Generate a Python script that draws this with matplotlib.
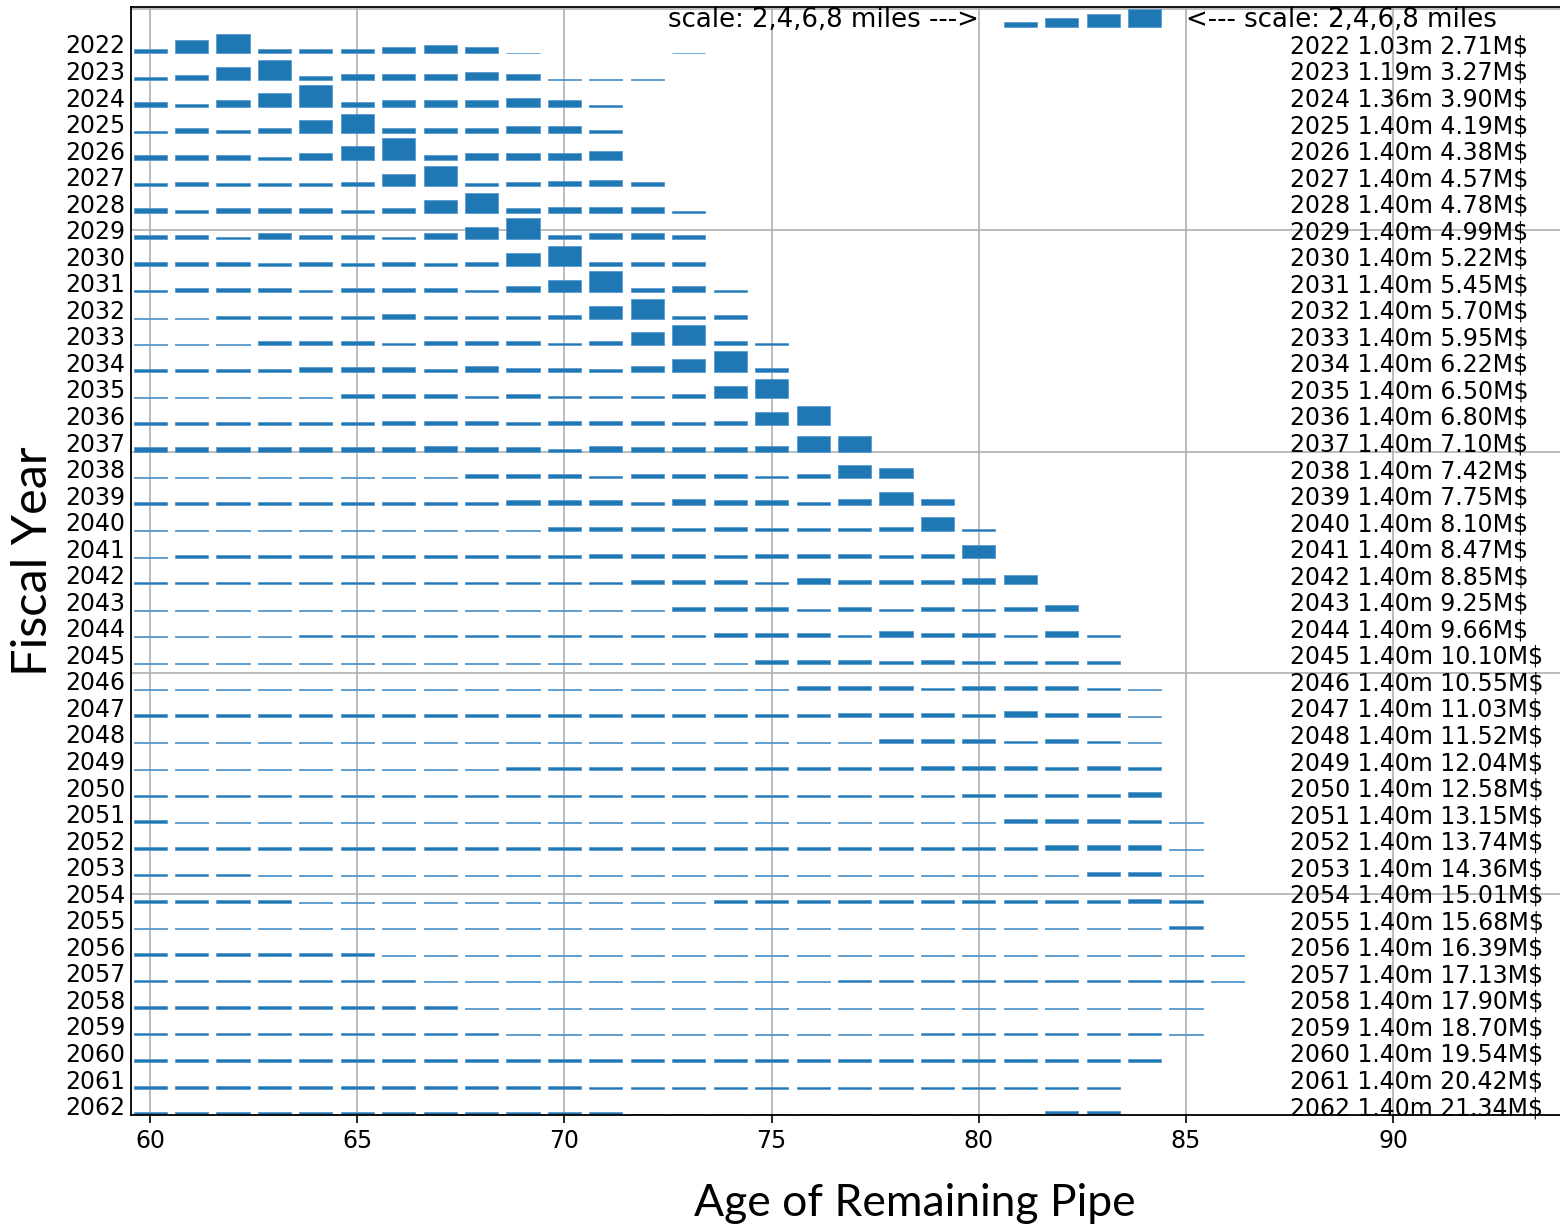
import matplotlib
matplotlib.use("Agg")
import matplotlib.pyplot as plt
from matplotlib.ticker import MultipleLocator, NullFormatter

# fiscal years, top row first
years = list(range(2022, 2063))
first_age = 60

# miles of remaining pipe per age, one list per year, first value is age 60
miles = [
    [1.9, 5.9, 8.9, 1.9, 1.9, 1.9, 2.8, 3.6, 2.8, 0.4, 0, 0, 0, 0.4],                    # 2022
    [1.3, 2.1, 5.7, 8.9, 1.9, 2.8, 2.8, 2.8, 3.6, 2.8, 0.4, 0.4, 0.4],                   # 2023
    [2.1, 1.3, 3.0, 6.0, 9.8, 2.1, 3.0, 3.0, 3.0, 3.7, 3.0, 0.7],                        # 2024
    [1.0, 2.1, 1.2, 2.1, 5.7, 8.7, 2.1, 2.1, 2.1, 3.0, 3.4, 1.6],                        # 2025
    [2.1, 2.1, 2.1, 1.2, 2.8, 6.0, 9.8, 2.1, 2.8, 2.8, 3.0, 3.7],                        # 2026
    [1.2, 1.9, 1.2, 1.2, 1.2, 1.9, 5.7, 8.9, 1.2, 1.9, 2.4, 2.7, 1.9],                   # 2027
    [1.9, 1.2, 1.9, 1.9, 1.9, 1.2, 1.9, 5.7, 8.7, 1.9, 2.7, 2.7, 2.7, 0.6],              # 2028
    [1.9, 1.9, 1.2, 2.7, 1.9, 1.9, 1.2, 2.7, 5.7, 9.6, 1.9, 2.7, 2.7, 1.9],              # 2029
    [1.9, 1.9, 1.9, 1.2, 1.9, 1.2, 1.9, 1.2, 1.9, 5.9, 9.0, 1.9, 1.9, 1.9],              # 2030
    [1.2, 1.9, 1.9, 1.9, 1.2, 1.9, 1.9, 1.9, 1.2, 2.7, 5.7, 9.5, 1.9, 2.7, 1.2],         # 2031
    [0.4, 0.4, 1.3, 1.3, 1.3, 1.3, 2.2, 1.3, 1.3, 1.3, 1.9, 6.0, 9.0, 1.2, 1.9],         # 2032
    [0.4, 0.4, 0.4, 2.0, 2.0, 2.0, 1.2, 2.0, 2.0, 2.0, 1.2, 1.9, 6.0, 9.2, 1.9, 1.2],    # 2033
    [1.3, 1.3, 1.3, 1.3, 2.0, 2.0, 2.0, 1.3, 2.6, 1.9, 1.9, 1.2, 2.7, 6.0, 9.5, 1.9],    # 2034
    [0.5, 0.5, 0.5, 0.5, 0.5, 2.0, 2.0, 2.0, 1.2, 2.0, 1.2, 1.2, 1.2, 1.9, 5.7, 8.9],    # 2035
    [1.3, 1.3, 1.3, 1.3, 1.3, 1.3, 2.0, 2.0, 1.9, 1.3, 1.9, 1.9, 1.9, 1.2, 1.9, 5.7, 8.4],  # 2036
    [1.9, 1.9, 1.9, 1.9, 1.9, 1.9, 1.9, 2.4, 2.0, 2.0, 1.3, 2.5, 1.9, 1.9, 1.9, 2.5, 6.8, 6.8],  # 2037
    [0.5] * 8 + [1.9, 1.9, 1.9, 1.0, 1.9, 1.9, 1.9, 1.0, 1.9, 5.9, 4.4],                 # 2038
    [1.3] * 9 + [1.9, 1.9, 1.9, 1.0, 2.7, 1.9, 1.9, 1.0, 2.7, 5.7, 2.7],                 # 2039
    [0.5] * 10 + [1.9, 1.9, 1.9, 1.3, 1.9, 1.3, 1.3, 1.3, 1.9, 6.2, 1.2],                # 2040
    [0.5] + [1.2] * 10 + [1.8, 1.8, 1.8, 1.0, 1.8, 1.8, 1.8, 1.0, 1.8, 5.7],             # 2041
    [1.2] * 12 + [1.9, 1.9, 1.9, 1.2, 2.7, 1.9, 1.9, 1.9, 2.9, 4.4],                     # 2042
    [0.5] * 13 + [1.7, 1.7, 1.7, 1.0, 1.7, 1.0, 1.7, 1.0, 1.7, 2.7],                     # 2043
    [0.5] * 4 + [1.2] * 10 + [1.9, 1.9, 1.9, 1.2, 2.7, 1.9, 1.9, 1.2, 2.7, 1.2],         # 2044
    [0.6] * 15 + [1.9, 1.9, 1.9, 1.3, 1.9, 1.3, 1.3, 1.3, 1.3],                          # 2045
    [0.5] * 16 + [1.9, 1.9, 1.9, 1.2, 1.9, 1.9, 1.9, 1.2, 0.5],                          # 2046
    [1.2] * 17 + [1.9, 1.9, 1.9, 1.2, 2.7, 1.9, 1.9, 0.4],                               # 2047
    [0.5] * 18 + [1.9, 1.9, 1.9, 1.2, 1.9, 1.2, 0.5],                                    # 2048
    [0.5] * 9 + [1.2] * 10 + [1.9, 1.9, 1.9, 1.2, 1.9, 1.2],                             # 2049
    [0.5] * 20 + [1.3, 1.3, 1.3, 1.3, 2.2],                                              # 2050
    [1.2] + [0.5] * 20 + [1.9, 1.9, 1.9, 1.2, 0.5],                                      # 2051
    [1.2] * 22 + [1.9, 1.9, 1.9, 0.5],                                                   # 2052
    [1.2] * 3 + [0.5] * 20 + [1.9, 1.9, 0.5],                                            # 2053
    [1.2] * 4 + [0.5] * 10 + [1.2] * 10 + [1.9, 1.2],                                    # 2054
    [0.5] * 25 + [1.5],                                                                  # 2055
    [1.2] * 6 + [0.5] * 21,                                                              # 2056
    [1.2] * 7 + [0.5] * 10 + [1.2] * 9 + [0.5],                                          # 2057
    [1.2] * 8 + [0.5] * 18,                                                              # 2058
    [1.2] * 9 + [0.5] * 10 + [1.2] * 6 + [0.5],                                          # 2059
    [1.2] * 25,                                                                          # 2060
    [1.2] * 11 + [0.5] * 13,                                                             # 2061
    [1.2] * 12 + [0.6] * 10 + [1.9, 1.9],                                                # 2062
]

# text on the right: miles replaced and cost per year
replaced = [1.03, 1.19, 1.36] + [1.40] * 38
cost = [2.71, 3.27, 3.90, 4.19, 4.38, 4.57, 4.78, 4.99, 5.22, 5.45,
        5.70, 5.95, 6.22, 6.50, 6.80, 7.10, 7.42, 7.75, 8.10, 8.47,
        8.85, 9.25, 9.66, 10.10, 10.55, 11.03, 11.52, 12.04, 12.58, 13.15,
        13.74, 14.36, 15.01, 15.68, 16.39, 17.13, 17.90, 18.70, 19.54, 20.42,
        21.34]

# scale key drawn as an extra row above 2022
scale_year = 2021
scale_ages = [81, 82, 83, 84]
scale_miles = [2, 4, 6, 8]

row_gap = 12
blue = '#1f77b4'
edge = '#5a9bd0'
plt.rcParams['font.size'] = 17


def row_y(yr):
    return (years[-1] - yr) * row_gap


fig = plt.figure(figsize=(15.6, 12.26), dpi=100)
ax = fig.add_axes([0.084, 0.0905, 0.918, 0.9038])

for yr, row in zip(years, miles):
    ages = [a for a, m in zip(range(first_age, first_age + len(row)), row) if m > 0]
    vals = [m for m in row if m > 0]
    ax.bar(ages, vals, width=0.8, bottom=row_y(yr), color=blue,
           edgecolor=edge, linewidth=0.6, zorder=2)

ax.bar(scale_ages, scale_miles, width=0.8, bottom=row_y(scale_year), color=blue,
       edgecolor=edge, linewidth=0.6, zorder=2)
ax.text(80, row_y(scale_year), 'scale: 2,4,6,8 miles --->', ha='right', fontsize=18.7)
ax.text(85, row_y(scale_year), '<--- scale: 2,4,6,8 miles', ha='left', fontsize=18.7)

for yr, m, c in zip(years, replaced, cost):
    ax.text(87.5, row_y(yr), f'{yr} {m:.2f}m {c:.2f}M$', ha='left')

ax.set_xlim(59.54, 94.1)
ax.set_ylim(0, 501)
ax.xaxis.set_major_locator(MultipleLocator(5))
ax.yaxis.set_major_locator(MultipleLocator(100))
ax.yaxis.set_major_formatter(NullFormatter())
ax.yaxis.remove_overlapping_locs = False
ax.set_yticks([row_y(yr) for yr in years], minor=True)
ax.set_yticklabels([str(yr) for yr in years], minor=True)
for lbl in ax.get_yticklabels(minor=True):
    lbl.set_va('baseline')
ax.tick_params(axis='y', which='both', length=0, pad=4)
ax.tick_params(axis='x', length=6, width=1.2, pad=4)

ax.set_axisbelow(True)
ax.grid(True, which='major', color='#b0b0b0', lw=1.2)
ax.spines['right'].set_visible(False)
for s in ['left', 'top', 'bottom']:
    ax.spines[s].set_linewidth(1.3)

fig.text(33 / 1560, 1 - 561 / 1226, 'Fiscal Year', rotation=90, ha='center', va='center',
         fontsize=35, family=['Lato', 'DejaVu Sans'])
fig.text(915 / 1560, 1 - 1203 / 1226, 'Age of Remaining Pipe', ha='center', va='center',
         fontsize=32, family=['Lato', 'DejaVu Sans'])

fig.savefig('out.png', dpi=100)
